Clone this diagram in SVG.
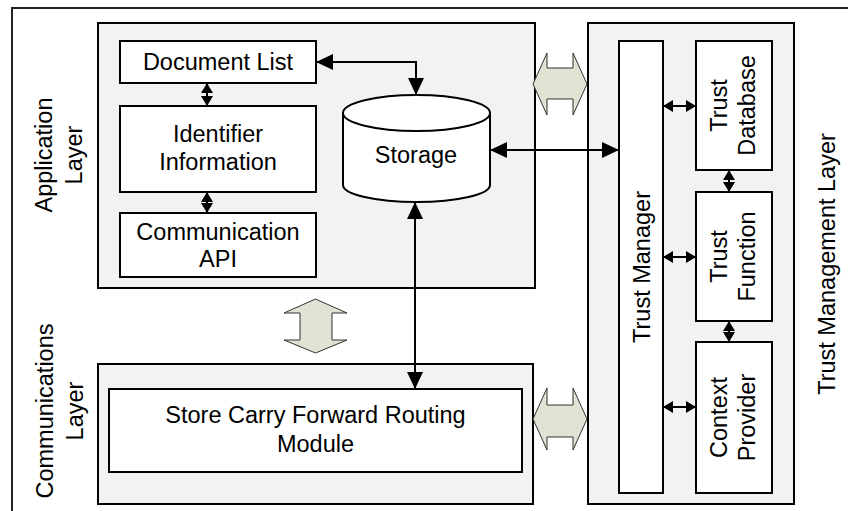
<svg xmlns="http://www.w3.org/2000/svg" width="848" height="511" viewBox="0 0 848 511">
<style>
.panel{fill:#f2f2f2;stroke:#000;stroke-width:2}
.box{fill:#fff;stroke:#000;stroke-width:2}
.t{font-family:"Liberation Sans",Arial,sans-serif;font-size:23.5px;fill:#000;text-anchor:middle}
.blk{fill:#dfe3d3;stroke:#333;stroke-width:1}
.c{fill:none;stroke:#000;stroke-width:2}
</style>
<defs>
<marker id="sa" viewBox="0 0 10 12" refX="10" refY="6" markerWidth="10" markerHeight="12" markerUnits="userSpaceOnUse" orient="auto-start-reverse"><path d="M0,0 L10,6 L0,12 Z" fill="#000"/></marker>
<marker id="la" viewBox="0 0 17 16" refX="17" refY="8" markerWidth="17" markerHeight="16" markerUnits="userSpaceOnUse" orient="auto-start-reverse"><path d="M0,0 L17,8 L0,16 Z" fill="#000"/></marker>
</defs>
<rect width="848" height="511" fill="#fff"/>
<path d="M12,511 V8 H848" fill="none" stroke="#222" stroke-width="2"/>

<g id="application-layer">
<rect class="panel" x="98" y="23" width="437" height="265"/>
<text class="t" transform="translate(52,155) rotate(-90)">Application</text>
<text class="t" transform="translate(82,155) rotate(-90)">Layer</text>
</g>
<g id="communications-layer">
<rect class="panel" x="98" y="364" width="435" height="140"/>
<text class="t" transform="translate(53,411) rotate(-90)">Communications</text>
<text class="t" transform="translate(83,411) rotate(-90)">Layer</text>
</g>
<g id="trust-management-layer">
<rect class="panel" x="588" y="23" width="206" height="481"/>
<text class="t" transform="translate(835,264) rotate(-90)">Trust Management Layer</text>
</g>

<g id="document-list">
<rect class="box" x="120" y="41" width="196" height="42"/>
<text class="t" x="218" y="70">Document List</text>
</g>
<g id="identifier-information">
<rect class="box" x="120" y="106" width="196" height="86"/>
<text class="t" x="218" y="142">Identifier</text>
<text class="t" x="218" y="170">Information</text>
</g>
<g id="communication-api">
<rect class="box" x="120" y="213" width="196" height="64"/>
<text class="t" x="218" y="240">Communication</text>
<text class="t" x="218" y="267">API</text>
</g>
<g id="storage">
<path class="box" d="M343,113 V185 A73.5,17 0 0 0 490,185 V113 A73.5,18 0 0 0 343,113 Z"/>
<path class="c" d="M343,113 A73.5,18 0 0 0 490,113"/>
<text class="t" x="416" y="163">Storage</text>
</g>
<g id="store-carry-forward">
<rect class="box" x="109" y="389" width="413" height="83"/>
<text class="t" x="315.5" y="423">Store Carry Forward Routing</text>
<text class="t" x="315.5" y="452">Module</text>
</g>
<g id="trust-manager">
<rect class="box" x="619" y="41" width="44" height="452"/>
<text class="t" transform="translate(650,267) rotate(-90)">Trust Manager</text>
</g>
<g id="trust-database">
<rect class="box" x="696" y="41" width="76" height="129"/>
<text class="t" transform="translate(727,105.5) rotate(-90)">Trust</text>
<text class="t" transform="translate(755,105.5) rotate(-90)">Database</text>
</g>
<g id="trust-function">
<rect class="box" x="696" y="192" width="76" height="129"/>
<text class="t" transform="translate(727,256.5) rotate(-90)">Trust</text>
<text class="t" transform="translate(755,256.5) rotate(-90)">Function</text>
</g>
<g id="context-provider">
<rect class="box" x="696" y="342" width="76" height="151"/>
<text class="t" transform="translate(727,417.5) rotate(-90)">Context</text>
<text class="t" transform="translate(755,417.5) rotate(-90)">Provider</text>
</g>

<g id="block-arrows">
<polygon class="blk" points="533,84 547,53 547,68 573,68 573,53 587,84 573,115 573,99 547,99 547,115"/>
<polygon class="blk" points="533,419 547,388 547,405 573,405 573,388 587,419 573,450 573,437 547,437 547,450"/>
<polygon class="blk" points="315.5,299 347,313 332,313 332,340 347,340 315.5,353 284,340 300,340 300,313 284,313"/>
</g>

<g id="connectors">
<path class="c" d="M316,62 H416 V95" marker-start="url(#la)" marker-end="url(#la)"/>
<path class="c" d="M415,202 V389" marker-start="url(#la)" marker-end="url(#la)"/>
<path class="c" d="M490,150 H619" marker-start="url(#la)" marker-end="url(#la)"/>
<path class="c" d="M207,83 V106" marker-start="url(#sa)" marker-end="url(#sa)"/>
<path class="c" d="M207,192 V213" marker-start="url(#sa)" marker-end="url(#sa)"/>
<path class="c" d="M663,106 H696" marker-start="url(#sa)" marker-end="url(#sa)"/>
<path class="c" d="M663,257 H696" marker-start="url(#sa)" marker-end="url(#sa)"/>
<path class="c" d="M663,407 H696" marker-start="url(#sa)" marker-end="url(#sa)"/>
<path class="c" d="M729,170 V192" marker-start="url(#sa)" marker-end="url(#sa)"/>
<path class="c" d="M729,321 V342" marker-start="url(#sa)" marker-end="url(#sa)"/>
</g>
</svg>
